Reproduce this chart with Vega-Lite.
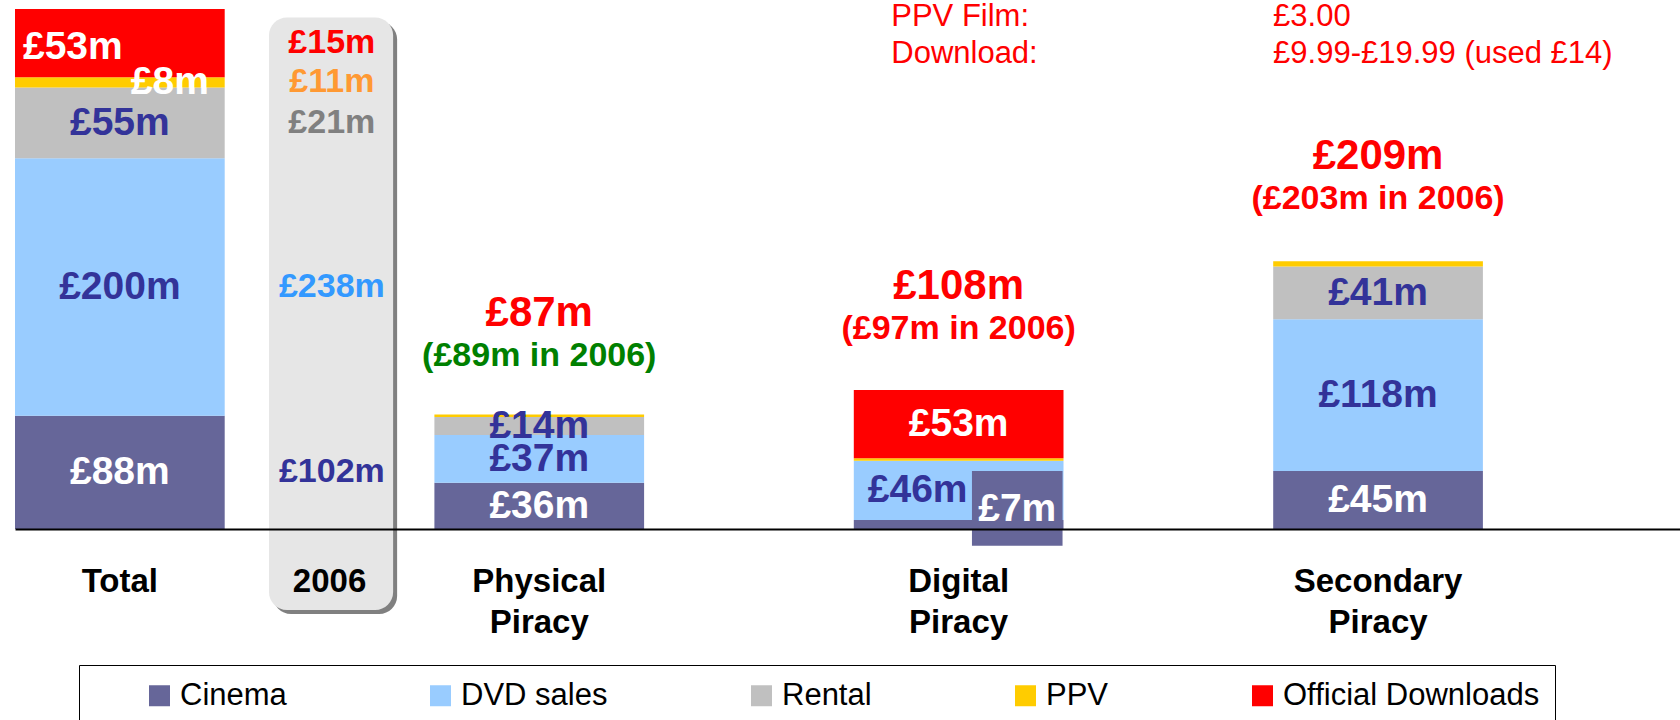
{
  "$schema": "https://vega.github.io/schema/vega-lite/v6.json",
  "width": 1680,
  "height": 529,
  "padding": {"left": 0, "top": 0, "right": 0, "bottom": 191},
  "autosize": {"type": "none"},
  "background": "white",
  "config": {"view": {"stroke": null}, "font": "Liberation Sans"},
  "data": {"values": [
    {"category": "Total", "type": "Cinema", "value": 88, "label": "£88m", "label2006": "£102m"},
    {"category": "Total", "type": "DVD sales", "value": 200, "label": "£200m", "label2006": "£238m"},
    {"category": "Total", "type": "Rental", "value": 55, "label": "£55m", "label2006": "£21m"},
    {"category": "Total", "type": "PPV", "value": 8, "label": "£8m", "label2006": "£11m"},
    {"category": "Total", "type": "Official Downloads", "value": 53, "label": "£53m", "label2006": "£15m"},
    {"category": "Physical Piracy", "type": "Cinema", "value": 36, "label": "£36m"},
    {"category": "Physical Piracy", "type": "DVD sales", "value": 37, "label": "£37m"},
    {"category": "Physical Piracy", "type": "Rental", "value": 14, "label": "£14m"},
    {"category": "Physical Piracy", "type": "PPV", "value": 2, "label": ""},
    {"category": "Digital Piracy", "type": "Cinema", "value": 7, "label": "£7m"},
    {"category": "Digital Piracy", "type": "DVD sales", "value": 46, "label": "£46m"},
    {"category": "Digital Piracy", "type": "PPV", "value": 2, "label": ""},
    {"category": "Digital Piracy", "type": "Official Downloads", "value": 53, "label": "£53m"},
    {"category": "Secondary Piracy", "type": "Cinema", "value": 45, "label": "£45m"},
    {"category": "Secondary Piracy", "type": "DVD sales", "value": 118, "label": "£118m"},
    {"category": "Secondary Piracy", "type": "Rental", "value": 41, "label": "£41m"},
    {"category": "Secondary Piracy", "type": "PPV", "value": 4, "label": ""}
  ]},
  "layer": [
    {
      "data": {"values": [{"category": "2006", "total2006": 387}]},
      "mark": {"type": "bar", "fill": "#808080", "cornerRadius": 18, "width": {"band": 0.592}, "xOffset": 5.5, "yOffset": -9.4, "y2Offset": 583},
      "encoding": {
        "x": {"field": "category", "type": "nominal"},
        "y": {"field": "total2006", "type": "quantitative", "axis": null},
        "y2": {"field": "total2006"}
      }
    },
    {
      "data": {"values": [{"category": "2006", "total2006": 387}]},
      "mark": {"type": "bar", "fill": "#e6e6e6", "cornerRadius": 18, "width": {"band": 0.592}, "xOffset": 1.5, "yOffset": -13.4, "y2Offset": 579},
      "encoding": {
        "x": {"field": "category", "type": "nominal"},
        "y": {"field": "total2006", "type": "quantitative", "axis": null},
        "y2": {"field": "total2006"}
      }
    },
    {
      "transform": [{"window": [{"op": "row_number", "as": "rank"}]}],
      "mark": {"type": "bar"},
      "encoding": {
        "x": {
          "field": "category", "type": "nominal",
          "scale": {"domain": ["Total", "2006", "Physical Piracy", " ", "Digital Piracy", "  ", "Secondary Piracy", "   "], "range": [15, 1692.6], "paddingInner": 0, "paddingOuter": 0},
          "axis": {"title": null, "domain": true, "domainColor": "black", "domainWidth": 2, "ticks": false, "grid": false, "labelExpr": "split(datum.label, ' ')", "labelFontSize": 33, "labelFontWeight": "bold", "labelColor": "black", "labelFont": "Liberation Sans", "labelPadding": 36, "labelLineHeight": 41, "labelOverlap": false, "labelLimit": 400, "labelAngle": 0, "labelAlign": "center", "labelBaseline": "top", "zindex": 1}
        },
        "y": {"field": "value", "type": "quantitative", "stack": "zero", "scale": {"domain": [0, 411], "nice": false}, "axis": null},
        "color": {
          "field": "type", "type": "nominal",
          "scale": {"domain": ["Cinema", "DVD sales", "Rental", "PPV", "Official Downloads"], "range": ["#666699", "#99ccff", "#c0c0c0", "#ffcc00", "#ff0000"]},
          "legend": {"title": " ", "titleOrient": "left", "titleFontSize": 31, "titlePadding": 50, "orient": "none", "legendX": 79, "legendY": 665, "direction": "horizontal", "columns": 5, "columnPadding": 138, "symbolType": "square", "symbolSize": 441, "symbolStrokeWidth": 0, "labelFontSize": 31, "labelFont": "Liberation Sans", "labelColor": "black", "labelOffset": 5, "labelLimit": 400, "strokeColor": "black", "padding": 15, "fillColor": "white"}
        },
        "order": {"field": "rank", "type": "quantitative"}
      }
    },
    {
      "transform": [{"filter": "datum.category === 'Digital Piracy' && datum.type === 'Cinema'"}],
      "mark": {"type": "bar", "fill": "#666699", "width": {"band": 0.432}, "xOffset": 58.6, "yOffset": -49, "y2Offset": 25.7},
      "encoding": {
        "x": {"field": "category", "type": "nominal"},
        "y": {"field": "value", "type": "quantitative", "axis": null},
        "y2": {"field": "value"}
      }
    },
    {
      "transform": [{"window": [{"op": "row_number", "as": "rank"}]}],
      "mark": {"type": "text", "fontSize": 39, "fontWeight": "bold", "baseline": "middle"},
      "encoding": {
        "x": {"field": "category", "type": "nominal"},
        "y": {"field": "value", "type": "quantitative", "stack": "zero", "bandPosition": 0.5, "axis": null},
        "detail": {"field": "type", "type": "nominal"},
        "order": {"field": "rank", "type": "quantitative"},
        "color": {"condition": {"test": "datum.type === 'DVD sales' || datum.type === 'Rental'", "value": "#333399"}, "value": "#ffffff"},
        "text": {"field": "label", "type": "nominal", "condition": {"test": "(datum.category === 'Total' && (datum.type === 'PPV' || datum.type === 'Official Downloads')) || (datum.category === 'Digital Piracy' && (datum.type === 'DVD sales' || datum.type === 'Cinema'))", "value": ""}}
      }
    },
    {
      "transform": [{"window": [{"op": "row_number", "as": "rank"}]}],
      "mark": {"type": "text", "fontSize": 39, "fontWeight": "bold", "baseline": "middle", "dx": -47, "dy": 4, "color": "#ffffff"},
      "encoding": {
        "x": {"field": "category", "type": "nominal"},
        "y": {"field": "value", "type": "quantitative", "stack": "zero", "bandPosition": 0.5, "axis": null},
        "detail": {"field": "type", "type": "nominal"},
        "order": {"field": "rank", "type": "quantitative"},
        "text": {"field": "label", "type": "nominal", "condition": {"test": "!(datum.category === 'Total' && datum.type === 'Official Downloads')", "value": ""}}
      }
    },
    {
      "transform": [{"window": [{"op": "row_number", "as": "rank"}]}],
      "mark": {"type": "text", "fontSize": 39, "fontWeight": "bold", "baseline": "middle", "dx": 50, "color": "#ffffff"},
      "encoding": {
        "x": {"field": "category", "type": "nominal"},
        "y": {"field": "value", "type": "quantitative", "stack": "zero", "bandPosition": 0.5, "axis": null},
        "detail": {"field": "type", "type": "nominal"},
        "order": {"field": "rank", "type": "quantitative"},
        "text": {"field": "label", "type": "nominal", "condition": {"test": "!(datum.category === 'Total' && datum.type === 'PPV')", "value": ""}}
      }
    },
    {
      "transform": [{"window": [{"op": "row_number", "as": "rank"}]}],
      "mark": {"type": "text", "fontSize": 39, "fontWeight": "bold", "baseline": "middle", "dx": -41, "color": "#333399"},
      "encoding": {
        "x": {"field": "category", "type": "nominal"},
        "y": {"field": "value", "type": "quantitative", "stack": "zero", "bandPosition": 0.5, "axis": null},
        "detail": {"field": "type", "type": "nominal"},
        "order": {"field": "rank", "type": "quantitative"},
        "text": {"field": "label", "type": "nominal", "condition": {"test": "!(datum.category === 'Digital Piracy' && datum.type === 'DVD sales')", "value": ""}}
      }
    },
    {
      "transform": [{"window": [{"op": "row_number", "as": "rank"}]}],
      "mark": {"type": "text", "fontSize": 39, "fontWeight": "bold", "baseline": "middle", "dx": 58.6, "dy": -15.5, "color": "#ffffff"},
      "encoding": {
        "x": {"field": "category", "type": "nominal"},
        "y": {"field": "value", "type": "quantitative", "stack": "zero", "bandPosition": 0.5, "axis": null},
        "detail": {"field": "type", "type": "nominal"},
        "order": {"field": "rank", "type": "quantitative"},
        "text": {"field": "label", "type": "nominal", "condition": {"test": "!(datum.category === 'Digital Piracy' && datum.type === 'Cinema')", "value": ""}}
      }
    },
    {
      "transform": [{"filter": "datum.category === 'Total'"}, {"window": [{"op": "row_number", "as": "rank"}]}],
      "mark": {"type": "text", "fontSize": 34, "fontWeight": "bold", "baseline": "middle", "dx": 212},
      "encoding": {
        "x": {"field": "category", "type": "nominal"},
        "y": {"field": "value", "type": "quantitative", "stack": "zero", "bandPosition": 0.5, "axis": null},
        "detail": {"field": "type", "type": "nominal"},
        "order": {"field": "rank", "type": "quantitative"},
        "color": {"condition": [
          {"test": "datum.type === 'Cinema'", "value": "#333399"},
          {"test": "datum.type === 'DVD sales'", "value": "#3399ff"},
          {"test": "datum.type === 'Rental'", "value": "#808080"},
          {"test": "datum.type === 'PPV'", "value": "#ff9933"}
        ], "value": "#ff0000"},
        "text": {"field": "label2006", "type": "nominal"}
      }
    },
    {
      "data": {"values": [
        {"category": "Physical Piracy", "total": 87, "totalLabel": "£87m", "note": "(£89m in 2006)", "change": "down"},
        {"category": "Digital Piracy", "total": 108, "totalLabel": "£108m", "note": "(£97m in 2006)", "change": "up", "itemLines": ["PPV Film:", "Download:"]},
        {"category": "Secondary Piracy", "total": 209, "totalLabel": "£209m", "note": "(£203m in 2006)", "change": "up", "priceLines": ["£3.00", "£9.99-£19.99 (used £14)"]}
      ]},
      "layer": [
        {
          "mark": {"type": "text", "fontSize": 42, "fontWeight": "bold", "baseline": "alphabetic", "color": "#ff0000", "dy": -91},
          "encoding": {
            "x": {"field": "category", "type": "nominal"},
            "y": {"field": "total", "type": "quantitative", "axis": null},
            "text": {"field": "totalLabel", "type": "nominal"}
          }
        },
        {
          "mark": {"type": "text", "fontSize": 34, "fontWeight": "bold", "baseline": "alphabetic", "dy": -51},
          "encoding": {
            "x": {"field": "category", "type": "nominal"},
            "y": {"field": "total", "type": "quantitative", "axis": null},
            "color": {"condition": {"test": "datum.change === 'down'", "value": "#008000"}, "value": "#ff0000"},
            "text": {"field": "note", "type": "nominal"}
          }
        },
        {
          "transform": [{"filter": "datum.category === 'Digital Piracy'"}],
          "mark": {"type": "text", "fontSize": 31, "align": "left", "baseline": "alphabetic", "lineHeight": 37, "color": "#ff0000", "dx": -67.4, "dy": -364},
          "encoding": {
            "x": {"field": "category", "type": "nominal"},
            "y": {"field": "total", "type": "quantitative", "axis": null},
            "text": {"field": "itemLines", "type": "nominal"}
          }
        },
        {
          "transform": [{"filter": "datum.category === 'Secondary Piracy'"}],
          "mark": {"type": "text", "fontSize": 31, "align": "left", "baseline": "alphabetic", "lineHeight": 37, "color": "#ff0000", "dx": -105, "dy": -234},
          "encoding": {
            "x": {"field": "category", "type": "nominal"},
            "y": {"field": "total", "type": "quantitative", "axis": null},
            "text": {"field": "priceLines", "type": "nominal"}
          }
        }
      ]
    }
  ]
}
